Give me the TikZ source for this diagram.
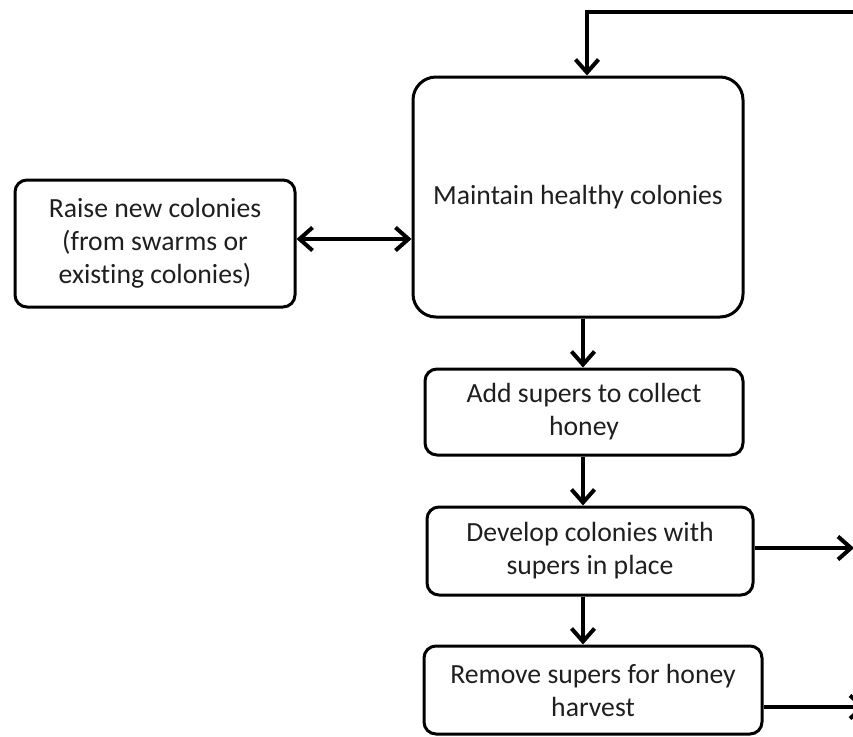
\documentclass[tikz,border=0pt]{standalone}
\usepackage{fontspec}
\setmainfont{Carlito}[Ligatures=NoCommon]
\usetikzlibrary{arrows.meta}
\begin{document}
\begin{tikzpicture}[x=1pt,y=-1pt,
  box/.style={draw=black, line width=3pt, fill=white, align=center, inner sep=0pt,
    font=\fontsize{27.7}{33}\selectfont, text=black!88},
  tip/.tip={Straight Barb[length=13pt,width=23pt]},
  conn/.style={line width=4pt, -tip},
  bconn/.style={line width=4pt, tip-tip}]
\clip (0,0) rectangle (853,736);
\fill[white] (0,0) rectangle (853,736);
\node[box, rounded corners=23pt, minimum width=330pt, minimum height=240pt] (main) at (578,197) {Maintain healthy colonies};
\node[box, rounded corners=12pt, minimum width=280pt, minimum height=127pt] (raise) at (155,243.5) {Raise new colonies\\(from swarms or\\existing colonies)};
\node[box, rounded corners=12pt, minimum width=318pt, minimum height=86pt] (add) at (584,412) {Add supers to collect\\honey};
\node[box, rounded corners=12pt, minimum width=326pt, minimum height=88pt] (dev) at (590,551) {Develop colonies with\\supers in place};
\node[box, rounded corners=12pt, minimum width=338pt, minimum height=88pt] (rem) at (593,690) {Remove supers for honey\\harvest};
\coordinate (topR) at (870,12);
\coordinate (topL) at (587,12);
\coordinate (midY) at (0,239);
\coordinate (vx) at (583,0);
\coordinate (devR) at (854,548);
\coordinate (remR) at (866,707);
\draw[conn] (topR) -- (topL) -- (topL |- main.north);
\draw[bconn] (raise.east |- midY) -- (main.west |- midY);
\draw[conn] (vx |- main.south) -- (vx |- add.north);
\draw[conn] (vx |- add.south) -- (vx |- dev.north);
\draw[conn] (vx |- dev.south) -- (vx |- rem.north);
\draw[conn] (dev.east |- devR) -- (devR);
\draw[conn] (rem.east |- remR) -- (remR);
\end{tikzpicture}
\end{document}
